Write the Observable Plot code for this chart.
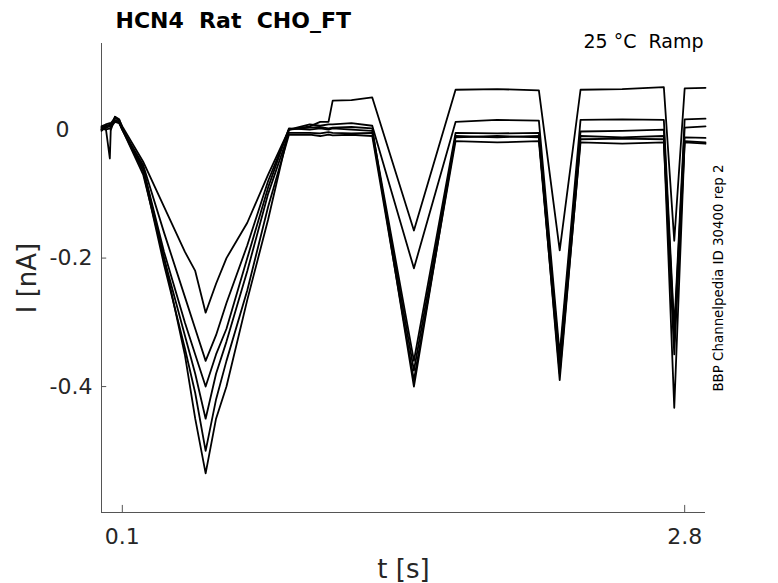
<!DOCTYPE html>
<html>
<head>
<meta charset="utf-8">
<script src="https://cdn.jsdelivr.net/npm/d3@7"></script>
<script src="https://cdn.jsdelivr.net/npm/@observablehq/plot@0.6"></script>
<style>
  html, body { margin: 0; padding: 0; background: #fff; }
  #wrap { position: relative; width: 778px; height: 583px; font-family: 'DejaVu Sans', sans-serif; }
  #chart { position: absolute; left: 0; top: 0; }
  .vtext { position: absolute; white-space: nowrap; line-height: 1; transform: translate(-50%, -50%) rotate(-90deg); }
</style>
</head>
<body>
<div id="wrap">
  <div id="chart"></div>
  <div id="ylab" class="vtext" style="left:27px; top:278px; font-size:26px; color:#262626;"></div>
  <div id="side" class="vtext" style="left:719px; top:278px; font-size:13.4px; color:#000;"></div>
</div>
<script>
// ---- data (time in s, current in nA) ----
const times = [0.00, 0.02, 0.04, 0.045, 0.05, 0.065, 0.085, 0.10, 0.20, 0.30, 0.40, 0.45, 0.50, 0.55, 0.60, 0.70, 0.80, 0.90,
               1.00, 1.05, 1.09, 1.11, 1.20, 1.30, 1.50, 1.70, 1.90, 2.10, 2.20, 2.30, 2.50, 2.70, 2.75, 2.80, 2.90];

const traceA = [0.005, 0.008, 0.010, 0.010, 0.012, 0.018, 0.015, 0.005, -0.050, -0.120, -0.190, -0.220, -0.285, -0.240, -0.200, -0.145, -0.070, 0.000,
                0.005, 0.012, 0.012, 0.045, 0.046, 0.050, -0.157, 0.062, 0.063, 0.061, -0.188, 0.062, 0.063, 0.066, -0.173, 0.064, 0.065];
const traceB = [0.000, 0.005, 0.008, 0.008, 0.010, 0.015, 0.012, 0.000, -0.055, -0.160, -0.260, -0.310, -0.360, -0.320, -0.270, -0.180, -0.080, 0.000,
                0.008, 0.006, 0.008, 0.008, 0.010, 0.006, -0.216, 0.012, 0.015, 0.014, -0.350, 0.015, 0.016, 0.015, -0.310, 0.016, 0.017];
const traceC = [0.002, 0.000, 0.002, 0.000, 0.004, 0.020, 0.016, 0.002, -0.060, -0.190, -0.300, -0.350, -0.400, -0.350, -0.310, -0.200, -0.090, 0.002,
                0.000, 0.002, 0.000, 0.002, 0.000, -0.002, -0.360, -0.005, -0.006, -0.005, -0.360, -0.003, -0.002, 0.000, -0.320, 0.003, 0.005];
const traceD = [-0.002, 0.004, -0.045, 0.005, 0.006, 0.012, 0.010, 0.000, -0.070, -0.200, -0.320, -0.380, -0.450, -0.380, -0.330, -0.220, -0.100, -0.005,
                -0.005, -0.006, -0.004, -0.005, -0.006, -0.005, -0.375, -0.012, -0.010, -0.012, -0.370, -0.010, -0.012, -0.010, -0.330, -0.012, -0.013];
const traceE = [0.000, 0.003, 0.005, 0.004, 0.008, 0.014, 0.010, 0.000, -0.065, -0.210, -0.340, -0.410, -0.500, -0.420, -0.360, -0.250, -0.120, -0.008,
                -0.008, -0.010, -0.008, -0.009, -0.008, -0.010, -0.390, -0.018, -0.020, -0.018, -0.380, -0.020, -0.022, -0.020, -0.350, -0.020, -0.022];
const traceF = [0.003, 0.006, 0.006, 0.006, 0.010, 0.020, 0.013, 0.000, -0.060, -0.200, -0.350, -0.450, -0.535, -0.450, -0.400, -0.265, -0.140, 0.000,
                0.003, 0.004, 0.002, 0.003, 0.004, 0.002, -0.400, -0.010, -0.012, -0.010, -0.390, -0.015, -0.014, -0.015, -0.433, -0.018, -0.020];

const traceNames = ["A", "B", "C", "D", "E", "F"];
const traceValues = [traceA, traceB, traceC, traceD, traceE, traceF];

const xTicks = [0.1, 2.8];
const xTickLabels = ["0.1", "2.8"];
const yTicks = [0, -0.2, -0.4];
const yTickLabels = ["0", "-0.2", "-0.4"];

const xDomain = [0, 2.9];
const yDomain = [-0.596, 0.134];

const titleText = "HCN4  Rat  CHO_FT";
const cornerText = "25 \u00B0C  Ramp";
const sideText = "BBP Channelpedia ID 30400 rep 2";
const xLabel = "t [s]";
const yLabel = "I [nA]";

// ---- build long table ----
const rows = [];
traceValues.forEach((vals, k) => {
  vals.forEach((v, i) => rows.push({trace: traceNames[k], t: times[i], v}));
});
const yTickRows = yTicks.map((y, i) => ({y, label: yTickLabels[i]}));

const ink = "#262626";
const tickLenX = 0.025;   // in seconds
const tickLenY = 0.011;   // in nA

const plot = Plot.plot({
  width: 778,
  height: 583,
  marginLeft: 101,
  marginRight: 73,
  marginTop: 43,
  marginBottom: 71,
  style: {fontFamily: "'DejaVu Sans', sans-serif", background: "#fff", color: ink, overflow: "visible"},
  x: {domain: xDomain, axis: null},
  y: {domain: yDomain, axis: null},
  marks: [
    // spines
    Plot.ruleX([xDomain[0]], {stroke: "#555", strokeWidth: 1}),
    Plot.ruleY([yDomain[0]], {stroke: "#555", strokeWidth: 1}),
    // inward ticks
    Plot.ruleY(yTicks, {y: d => d, x1: xDomain[0], x2: xDomain[0] + tickLenX, stroke: "#555"}),
    Plot.ruleX(xTicks, {x: d => d, y1: yDomain[0], y2: yDomain[0] + tickLenY, stroke: "#555"}),
    // traces
    Plot.line(rows, {x: "t", y: "v", z: "trace", stroke: "#000", strokeWidth: 1.8, strokeLinejoin: "round"}),
    // tick labels (zero sits under the "0" of the negative labels)
    Plot.text(yTickRows.filter(d => d.y === 0), {y: "y", text: "label", frameAnchor: "left", dx: -32, textAnchor: "end",
                       lineAnchor: "middle", fontSize: 22, fill: ink}),
    Plot.text(yTickRows.filter(d => d.y !== 0), {y: "y", text: "label", frameAnchor: "left", dx: -9, textAnchor: "end",
                       lineAnchor: "middle", fontSize: 22, fill: ink}),
    Plot.text(xTicks, {x: d => d, text: (d, i) => xTickLabels[i], frameAnchor: "bottom", dy: 31, textAnchor: "middle",
                       lineAnchor: "bottom", fontSize: 22, fill: ink}),
    // x axis title
    Plot.text([xLabel], {text: d => d, frameAnchor: "bottom", dy: 65, lineAnchor: "bottom", fontSize: 26, fill: ink}),
    // title & annotation
    Plot.text([titleText], {text: d => d, frameAnchor: "top-left", dx: 14, dy: -16, textAnchor: "start", lineAnchor: "bottom",
                            fontSize: 22, fontWeight: "bold", fill: "#000"}),
    Plot.text([cornerText], {text: d => d, frameAnchor: "top-right", dx: -2, dy: 4, textAnchor: "end", lineAnchor: "bottom",
                             fontSize: 19, fill: "#000"})
  ]
});
document.getElementById("chart").appendChild(plot);
document.getElementById("ylab").textContent = yLabel;
document.getElementById("side").textContent = sideText;
</script>
</body>
</html>
